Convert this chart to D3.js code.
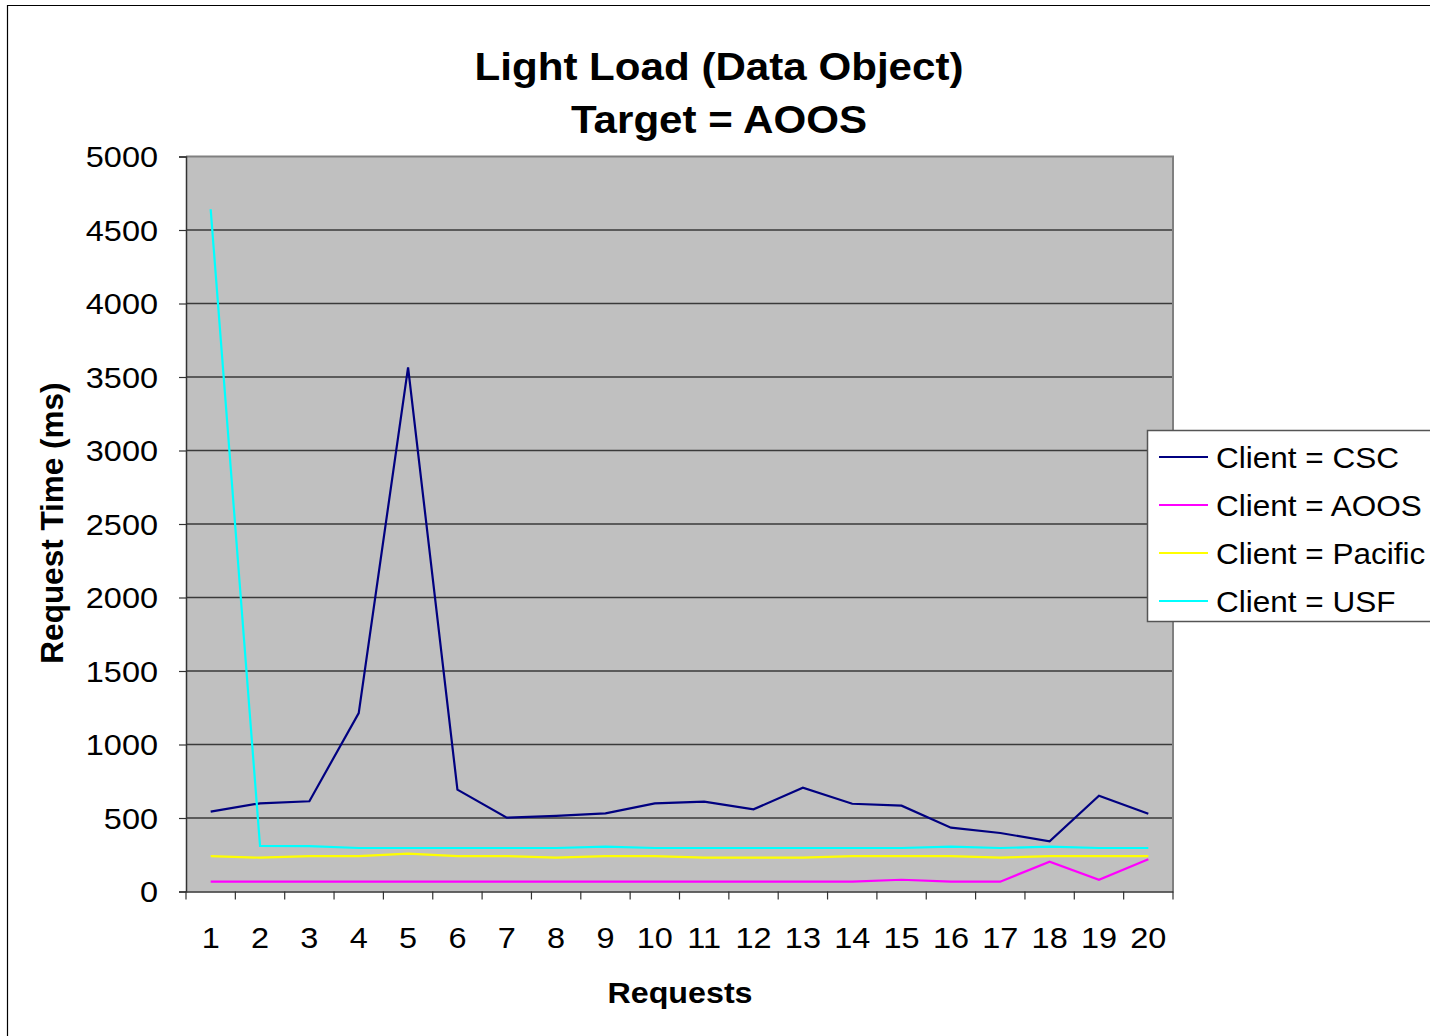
<!DOCTYPE html>
<html>
<head>
<meta charset="utf-8">
<script src="https://cdn.jsdelivr.net/npm/d3@7"></script>
<style>
  html, body { margin: 0; padding: 0; background: #fff; }
  svg { display: block; font-family: Arial, "Liberation Sans", sans-serif; }
</style>
</head>
<body>
<svg id="chart" width="1430" height="1036"></svg>
<script>
// Request numbers along the x axis
const requests = d3.range(1, 21);

// Request times (ms) per client
const csc     = [543, 600, 614, 1214, 3566, 693, 502, 515, 532, 600, 611, 559, 706, 597, 584, 434, 398, 341, 652, 529];
const aoos    = [67, 67, 67, 67, 67, 67, 67, 67, 67, 67, 67, 67, 67, 67, 80, 67, 67, 203, 80, 219];
const pacific = [241, 230, 241, 241, 257, 241, 241, 230, 241, 241, 230, 230, 230, 241, 241, 241, 230, 241, 241, 241];
const usf     = [4641, 310, 308, 296, 296, 296, 296, 296, 305, 296, 296, 296, 296, 296, 296, 305, 296, 305, 296, 296];

const seriesNames = ["Client = CSC", "Client = AOOS", "Client = Pacific", "Client = USF"];
const seriesColors = ["#000080", "#FF00FF", "#FFFF00", "#00FFFF"];
const yTicks = [0, 500, 1000, 1500, 2000, 2500, 3000, 3500, 4000, 4500, 5000];

const series = [csc, aoos, pacific, usf].map((values, i) => ({
  name: seriesNames[i], color: seriesColors[i], values
}));

const svg = d3.select("#chart");

// Text in this chart is set slightly wide
const WIDE = 1.12;

// Outer chart frame
svg.append("path")
  .attr("d", "M7.5,1036 L7.5,5.5 L1430,5.5")
  .attr("fill", "none").attr("stroke", "#000").attr("stroke-width", 1.2);

const plot = { left: 186, top: 156.5, right: 1173, bottom: 891.5 };

const x = d3.scaleBand().domain(requests).range([plot.left, plot.right]).padding(0);
const y = d3.scaleLinear().domain([0, 5000]).range([plot.bottom, plot.top]);

// Plot background
svg.append("rect")
  .attr("x", plot.left).attr("y", plot.top)
  .attr("width", plot.right - plot.left).attr("height", plot.bottom - plot.top)
  .attr("fill", "#C0C0C0");

// Horizontal gridlines
svg.append("g").selectAll("line")
  .data(yTicks.filter(t => t > 0 && t < 5000))
  .join("line")
  .attr("x1", plot.left).attr("x2", plot.right)
  .attr("y1", d => y(d)).attr("y2", d => y(d))
  .attr("stroke", "#3a3a3a").attr("stroke-width", 1.5);

// Plot frame (top and right)
svg.append("path")
  .attr("d", `M${plot.left},${plot.top} L${plot.right},${plot.top} L${plot.right},${plot.bottom}`)
  .attr("fill", "none").attr("stroke", "#808080").attr("stroke-width", 2);

// Y axis
const yAxis = svg.append("g")
  .attr("transform", `translate(${plot.left},0)`)
  .call(d3.axisLeft(y).tickValues(yTicks).tickSize(7).tickPadding(21).tickFormat(d3.format("d")));
yAxis.select(".domain").attr("stroke", "#333").attr("stroke-width", 1.5);
yAxis.selectAll(".tick line").attr("stroke", "#333").attr("stroke-width", 1.2);
yAxis.selectAll(".tick text")
  .attr("font-size", 29).attr("fill", "#000")
  .attr("font-family", "Arial, 'Liberation Sans', sans-serif")
  .attr("dy", "0.36em")
  .attr("x", -28 / WIDE)
  .attr("transform", `scale(${WIDE},1)`);

// X axis: ticks at category boundaries, labels at centres
const xAxis = svg.append("g")
  .attr("transform", `translate(0,${plot.bottom})`)
  .call(d3.axisBottom(x).tickSize(0).tickPadding(36));
xAxis.select(".domain").attr("stroke", "#333").attr("stroke-width", 1.5);
xAxis.selectAll(".tick text")
  .attr("font-size", 29).attr("fill", "#000")
  .attr("font-family", "Arial, 'Liberation Sans', sans-serif")
  .attr("transform", `scale(${WIDE},1)`);
svg.append("g").selectAll("line")
  .data(requests.concat([null]))
  .join("line")
  .attr("x1", (d, i) => i < requests.length ? x(d) : plot.right)
  .attr("x2", (d, i) => i < requests.length ? x(d) : plot.right)
  .attr("y1", plot.bottom).attr("y2", plot.bottom + 8)
  .attr("stroke", "#333").attr("stroke-width", 1.2);

// Series lines
const line = d3.line()
  .x((d, i) => x(requests[i]) + x.bandwidth() / 2)
  .y(d => y(d));

svg.append("g").selectAll("path")
  .data(series)
  .join("path")
  .attr("d", d => line(d.values))
  .attr("fill", "none")
  .attr("stroke", d => d.color)
  .attr("stroke-width", 2.2)
  .attr("stroke-linejoin", "miter");

// Titles
svg.append("text")
  .attr("transform", "translate(719,80) scale(1.094,1)")
  .attr("text-anchor", "middle")
  .attr("font-size", 38.5).attr("font-weight", "bold")
  .text("Light Load (Data Object)");
svg.append("text")
  .attr("transform", "translate(719,133) scale(1.094,1)")
  .attr("text-anchor", "middle")
  .attr("font-size", 38.5).attr("font-weight", "bold")
  .text("Target = AOOS");

svg.append("text")
  .attr("transform", "translate(680,1003) scale(1.075,1)")
  .attr("text-anchor", "middle")
  .attr("font-size", 30).attr("font-weight", "bold")
  .text("Requests");

svg.append("text")
  .attr("transform", "translate(63,523) rotate(-90)")
  .attr("text-anchor", "middle")
  .attr("font-size", 31.5).attr("font-weight", "bold")
  .text("Request Time (ms)");

// Legend
const legend = svg.append("g");
legend.append("rect")
  .attr("x", 1147.5).attr("y", 430.5)
  .attr("width", 300).attr("height", 191)
  .attr("fill", "#fff").attr("stroke", "#555").attr("stroke-width", 1.5);

const items = legend.selectAll("g.item")
  .data(series)
  .join("g")
  .attr("class", "item")
  .attr("transform", (d, i) => `translate(0,${457 + i * 48})`);
items.append("line")
  .attr("x1", 1159).attr("x2", 1208)
  .attr("y1", 0).attr("y2", 0)
  .attr("stroke", d => d.color).attr("stroke-width", 2);
items.append("text")
  .attr("transform", "translate(1216,0) scale(1.05,1)")
  .attr("dy", "0.36em")
  .attr("font-size", 30)
  .text(d => d.name);
</script>
</body>
</html>
